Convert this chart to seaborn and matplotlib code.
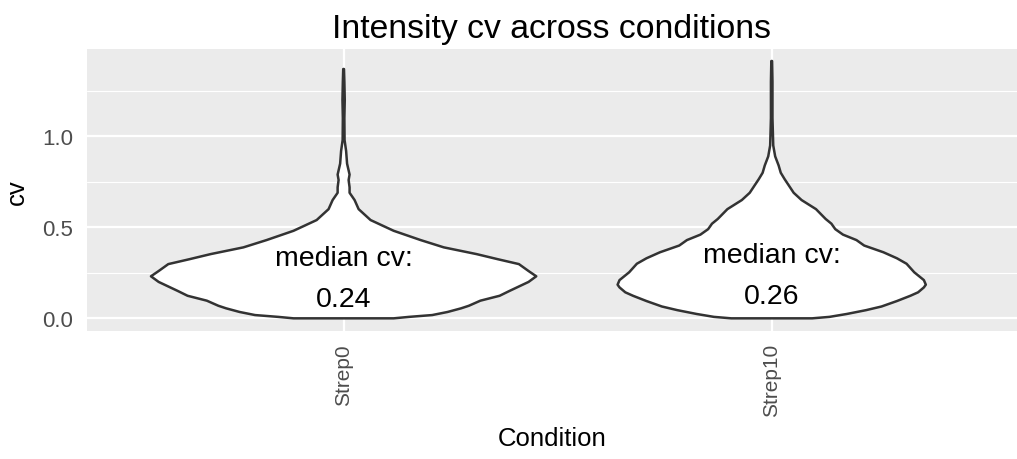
import matplotlib
matplotlib.use("Agg")
import matplotlib.pyplot as plt
from matplotlib.ticker import MultipleLocator
import numpy as np
import pandas as pd
import seaborn as sns

# Conditions and the median cv printed inside each violin
conditions = ["Strep0", "Strep10"]
medians = [0.24, 0.26]

# Violin profiles (cv level, relative density; 1 = widest violin)
strep0_cv = [0.000, 0.008, 0.018, 0.035, 0.055, 0.069, 0.097, 0.124, 0.150, 0.170,
             0.200, 0.231, 0.260, 0.298, 0.325, 0.353, 0.390, 0.430, 0.481, 0.540,
             0.600, 0.650, 0.690, 0.720, 0.760, 0.790, 0.850, 0.920, 0.980, 1.100,
             1.200, 1.300, 1.370]
strep0_density = [0.26, 0.34, 0.46, 0.54, 0.61, 0.65, 0.71, 0.81, 0.86, 0.90,
                  0.96, 1.00, 0.96, 0.91, 0.80, 0.69, 0.52, 0.40, 0.26, 0.14,
                  0.078, 0.057, 0.031, 0.031, 0.026, 0.031, 0.018, 0.013, 0.005, 0.004,
                  0.006, 0.004, 0.002]

strep10_cv = [0.000, 0.008, 0.024, 0.045, 0.065, 0.095, 0.124, 0.143, 0.170, 0.185,
              0.210, 0.253, 0.300, 0.330, 0.363, 0.400, 0.430, 0.460, 0.490, 0.520,
              0.546, 0.600, 0.650, 0.690, 0.765, 0.800, 0.840, 0.890, 0.950, 1.100,
              1.300, 1.414]
strep10_density = [0.21, 0.30, 0.39, 0.49, 0.57, 0.65, 0.72, 0.76, 0.79, 0.80,
                   0.79, 0.74, 0.70, 0.65, 0.58, 0.48, 0.44, 0.37, 0.33, 0.31,
                   0.28, 0.23, 0.155, 0.114, 0.067, 0.047, 0.036, 0.018, 0.008, 0.004,
                   0.004, 0.002]

profiles = pd.concat([
    pd.DataFrame({"condition": conditions[0], "cv": strep0_cv, "density": strep0_density}),
    pd.DataFrame({"condition": conditions[1], "cv": strep10_cv, "density": strep10_density}),
])

# ggplot-like theme
sns.set_theme(style="darkgrid", rc={
    "axes.facecolor": "#EBEBEB",
    "grid.color": "white",
    "figure.facecolor": "white",
})
plt.rcParams["font.family"] = ["Liberation Sans", "DejaVu Sans"]

fig = plt.figure(figsize=(10.17, 4.6), dpi=100)
ax = fig.add_axes([0.0853, 0.2789, 0.9147, 0.6124])

half_width = 0.45  # violin width 0.9 in category units
for i, cond in enumerate(conditions):
    sub = profiles[profiles["condition"] == cond]
    y = sub["cv"].to_numpy()
    w = sub["density"].to_numpy() * half_width
    xs = np.concatenate([i - w, (i + w)[::-1]])
    ys = np.concatenate([y, y[::-1]])
    ax.fill(xs, ys, facecolor="white", edgecolor="#333333", linewidth=1.8,
            joinstyle="round", zorder=3)
    ax.text(i, medians[i] - 0.022, f"median cv:\n{medians[i]:.2f}", ha="center",
            va="center", fontsize=20.5, linespacing=1.75, color="black", zorder=4)

# Axes limits and grid
ax.set_xlim(-0.6, 1.573)
ax.set_ylim(-0.068, 1.48)
ax.set_xticks(range(len(conditions)))
ax.set_xticklabels(conditions, rotation=90, fontsize=15, color="#4D4D4D")
ax.yaxis.set_major_locator(MultipleLocator(0.5))
ax.yaxis.set_minor_locator(MultipleLocator(0.25))
ax.set_yticks([0.0, 0.5, 1.0])
ax.set_yticklabels(["0.0", "0.5", "1.0"], fontsize=16, color="#4D4D4D")
ax.grid(which="major", color="white", linewidth=1.6)
ax.grid(which="minor", axis="y", color="white", linewidth=0.8)
ax.tick_params(axis="both", which="major", length=5, width=1.1, color="#333333")
ax.tick_params(axis="y", which="major", pad=5)
ax.tick_params(axis="x", which="major", pad=4)
ax.tick_params(which="minor", length=0)
for spine in ax.spines.values():
    spine.set_visible(False)

# Titles
ax.set_xlabel("Condition", fontsize=18.5, color="black")
ax.xaxis.set_label_coords(0.5, -0.34)
ax.set_ylabel("cv", fontsize=18.5, color="black")
ax.yaxis.set_label_coords(-0.062, 0.494)
ax.set_title("Intensity cv across conditions", fontsize=24.3, color="black", pad=9)

fig.savefig("out.png", dpi=100)
